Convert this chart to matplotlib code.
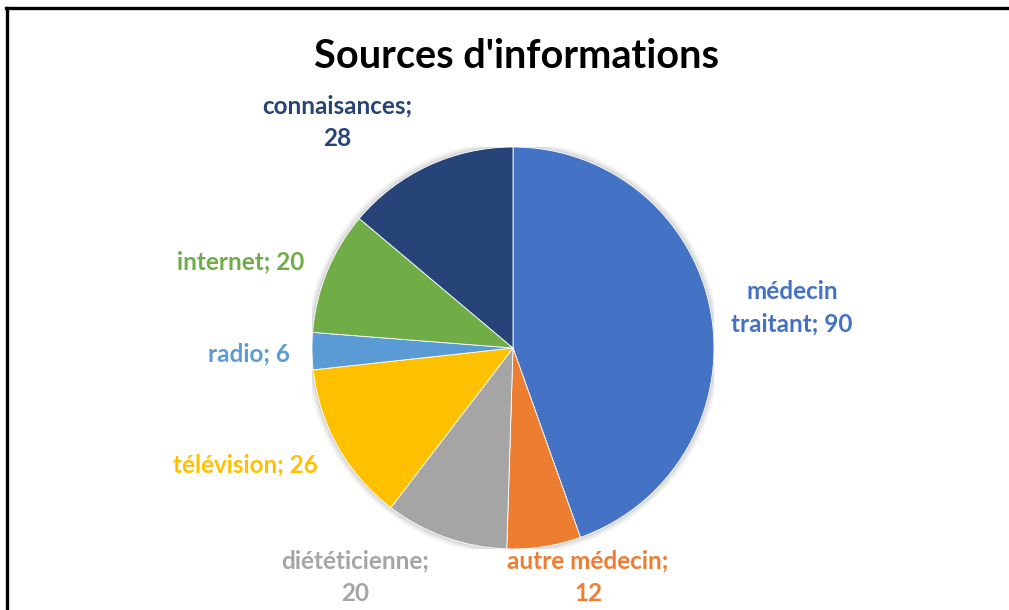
import matplotlib.pyplot as plt
from matplotlib.lines import Line2D
from matplotlib.patches import Circle

# donnees du graphique
labels = ["médecin\ntraitant; 90", "autre médecin;\n12", "diététicienne;\n20",
          "télévision; 26", "radio; 6", "internet; 20", "connaisances;\n28"]
values = [90, 12, 20, 26, 6, 20, 28]
colors = ["#4472C4", "#ED7D31", "#A5A5A5", "#FFC000", "#5B9BD5", "#70AD47", "#264478"]

# positions des etiquettes (coordonnees du camembert, rayon = 1)
label_pos = [(1.388, 0.199), (0.373, -1.139), (-0.786, -1.139),
             (-1.333, -0.582), (-1.313, -0.030), (-1.353, 0.428), (-0.876, 1.124)]

W, H = 1009, 610
fig = plt.figure(figsize=(W / 100, H / 100), dpi=100)
fig.patch.set_facecolor("white")

cx, cy, r = 513, 348, 201
ax = fig.add_axes([(cx - r) / W, (H - cy - r) / H, 2 * r / W, 2 * r / H])

# ombre legere autour du camembert
for k, a in [(1.03, 0.04), (1.02, 0.05), (1.01, 0.07)]:
    ax.add_patch(Circle((0, 0), k, color="#000000", alpha=a, lw=0, zorder=0))

ax.pie(values, colors=colors, startangle=90, counterclock=False, radius=1,
       wedgeprops=dict(edgecolor="white", linewidth=0.6))
ax.set_xlim(-1, 1)
ax.set_ylim(-1, 1)
ax.set_aspect("equal")
ax.axis("off")

for lab, (x, y), c in zip(labels, label_pos, colors):
    ax.text(x, y, lab, color=c, fontsize=17.5, fontweight="bold", family="Lato",
            ha="center", va="center", multialignment="center",
            linespacing=1.5, clip_on=False)

fig.text(516 / W, (H - 56) / H, "Sources d'informations", fontsize=28.5,
         fontweight="bold", family="Lato", ha="center", va="center", color="black")

# cadre
fig.add_artist(Line2D([6 / W, 1], [(H - 8) / H] * 2, color="black", lw=2.4,
                      transform=fig.transFigure))
fig.add_artist(Line2D([7 / W] * 2, [0, (H - 8) / H], color="black", lw=2.4,
                      transform=fig.transFigure))

fig.savefig("out.png", dpi=100)
